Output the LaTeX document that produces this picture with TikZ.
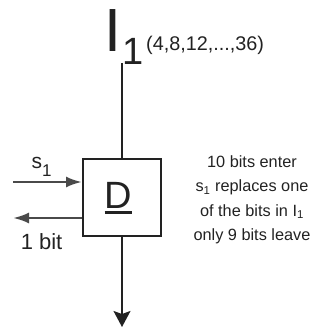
\documentclass[tikz,border=0pt]{standalone}
\usepackage{fontspec}
\setmainfont{Liberation Sans}
\usetikzlibrary{arrows.meta,positioning}
\definecolor{dink}{HTML}{222222}
\definecolor{dgrey}{HTML}{4A4A4A}

\begin{document}
\begin{tikzpicture}[x=1pt, y=-1pt,
  lbl/.style={inner sep=0pt, text=dink, anchor=base west},
  sidewire/.style={draw=dgrey, line width=2.6pt, -{Latex[length=16pt,width=11pt]}}]
  \useasboundingbox (0,0) rectangle (330,329);
  % input name at the top
  \node[lbl, font=\fontsize{61}{61}\selectfont] (iname) at (104.3,52) {I};
  \node[lbl, font=\fontsize{38}{38}\selectfont] (isub) at (122,65) {1};
  \node[lbl, font=\fontsize{19.8}{20}\selectfont] (ilist) at (146,51) {(4,8,12,...,36)};
  \coordinate (itop) at (122,63);
  \coordinate (dout) at (122,327);
  % the D block
  \node[draw=dink, line width=2pt, fill=white, minimum width=78pt, minimum height=77pt, inner sep=0pt] (dblock) at (122,197.5) {};
  \node[lbl, font=\fontsize{38}{38}\selectfont] (dname) at (104.5,208) {D};
  \draw[dink, line width=3pt] ([yshift=-4.5pt]dname.base west) -- ([yshift=-4.5pt]dname.base east);
  \draw[dink, line width=1.6pt] (itop) -- (dblock);
  \draw[dink, line width=1.6pt, -{Stealth[length=16pt,width=17pt,inset=3pt]}] (dblock) -- (dout);
  % side wires
  \coordinate (sin) at (13,182);
  \coordinate (bout) at (13,218);
  \draw[sidewire] (sin) -- (sin -| dblock.west);
  \draw[sidewire] (bout -| dblock.west) -- (bout);
  \node[lbl, font=\fontsize{21}{21}\selectfont] (slbl) at (31.4,169) {s\raisebox{-7pt}{\fontsize{17}{17}\selectfont 1}};
  \node[lbl, font=\fontsize{22}{22}\selectfont] (bitlbl) at (20.6,249) {1 bit};
  % note
  \node[inner sep=0pt, text=dink, align=center, font=\fontsize{16.3}{24.5}\selectfont] (note) at (252,199.6)
    {10 bits enter\\s\textsubscript{1} replaces one\\of the bits in I\textsubscript{1}\\only 9 bits leave};
\end{tikzpicture}
\end{document}
